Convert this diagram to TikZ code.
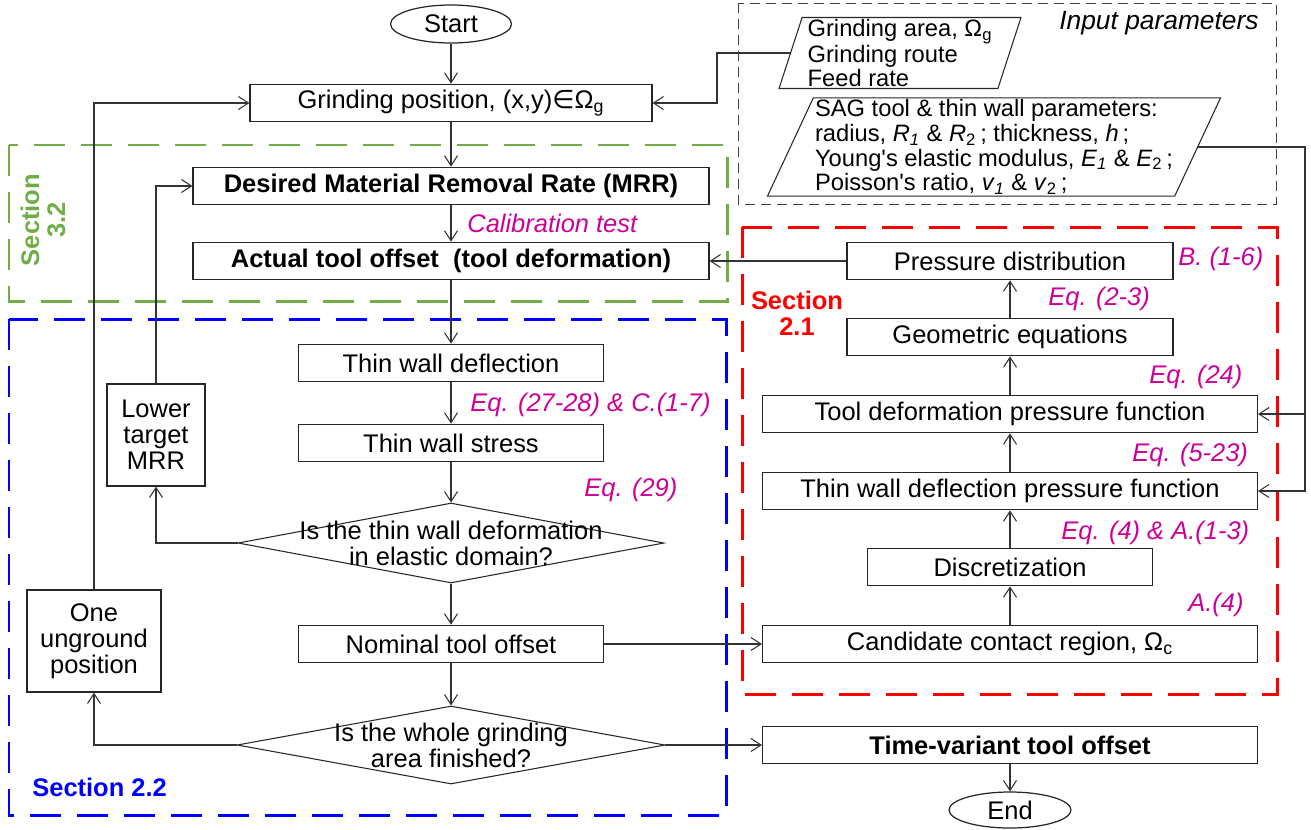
\documentclass[tikz,border=0pt]{standalone}
\usepackage{fontspec}
\setmainfont{Liberation Sans}
\newfontfamily\dejavufont{DejaVu Sans}
\usepackage{xcolor}
\usepackage{tikz}
\usetikzlibrary{arrows.meta,positioning,shapes.geometric}
\definecolor{eqmagenta}{HTML}{CC0099}
\definecolor{secgreen}{HTML}{70AD47}
\definecolor{secblue}{HTML}{0000FF}
\definecolor{secred}{HTML}{FF0000}
\newcommand{\boxfont}{\fontsize{14.5}{14.7}\selectfont}
\tikzset{
  plain/.style={line width=0.6pt, draw=black!80},
  flow/.style={plain, -{Straight Barb[length=2mm, width=2.6mm]}},
  process/.style={
    rectangle,
    draw=black!85,
    line width=0.7pt,
    fill=white,
    font=\boxfont,
    align=center,
    inner sep=2pt,
    minimum height=0.75cm
  },
  boldbox/.style={process, font=\boxfont\bfseries},
  terminal/.style={ellipse, draw=black!85, line width=0.7pt, fill=white, font=\boxfont, inner sep=0pt},
  decision/.style={diamond, draw=black!85, line width=0.6pt, inner sep=0pt},
  question/.style={font=\boxfont, align=center, inner sep=0pt},
  dataio/.style={
    trapezium,
    trapezium stretches body,
    draw=black!85,
    line width=0.6pt,
    align=left,
    inner sep=1pt
  },
  eqlabel/.style={font=\boxfont\itshape, text=eqmagenta, anchor=west, inner sep=0pt},
  seclabel/.style={font=\boxfont\bfseries, align=center, inner sep=0pt},
  frame/.style={line width=1.7pt, dash pattern=on 0.62cm off 0.32cm},
  inputframe/.style={line width=0.5pt, draw=black!75, dash pattern=on 0.2cm off 0.12cm}
}

\begin{document}
\begin{tikzpicture}[x=0.02cm,y=-0.02cm]
\path[use as bounding box] (0,0) rectangle (1311,829);

\draw[frame, draw=secgreen] (9,145) rectangle (727,301);
\draw[frame, draw=secblue] (9,319) rectangle (726,815);
\draw[frame, draw=secred] (742,227) rectangle (1277,694);
\draw[inputframe] (738,3) rectangle (1276,204);

\node[terminal, minimum width=2.42cm, minimum height=0.76cm] (start) at (451,24) {Start};
\node[process, minimum width=8.04cm] (gridpos) at (451,103) {Grinding position, (x,y){\dejavufont ∈}Ω\textsubscript{g}};
\node[boldbox, minimum width=10.32cm] (mrr) at (451,186) {Desired Material Removal Rate (MRR)};
\node[eqlabel] (calib) at (467,223) {Calibration test};
\node[boldbox, minimum width=10.32cm] (actual) at (451,261) {Actual tool offset~ (tool deformation)};

\node[process, minimum width=6.1cm] (deflect) at (451,363) {Thin wall deflection};
\node[eqlabel] (eqstress) at (470,405) {Eq. (27-28) \& C.(1-7)};
\node[process, minimum width=6.1cm] (stress) at (451,443) {Thin wall stress};
\node[eqlabel] (eqelastic) at (584,490) {Eq. (29)};
\node[decision, minimum width=8.52cm, minimum height=1.6cm] (elastic) at (451,543) {};
\node[question] (elasticq) at (elastic.center) {Is the thin wall deformation\\in elastic domain?};
\node[process, minimum width=1.96cm, minimum height=2.04cm] (lower) at (156,435) {Lower\\target\\MRR};
\node[process, minimum width=6.1cm] (nominal) at (451,644) {Nominal tool offset};
\node[decision, minimum width=8.56cm, minimum height=1.56cm] (finished) at (451,745) {};
\node[question] (finishedq) at (finished.center) {Is the whole grinding\\area finished?};
\node[process, minimum width=2.68cm, minimum height=2.04cm] (unground) at (94,641) {One\\unground\\position};

\node[boldbox, minimum width=9.9cm] (timevar) at (1010,745) {Time-variant tool offset};
\node[terminal, minimum width=2.44cm, minimum height=0.72cm] (finish) at (1010,810) {End};
\node[process, minimum width=9.9cm] (candidate) at (1010,644) {Candidate contact region, Ω\textsubscript{c}};
\node[process, minimum width=5.7cm] (discr) at (1010,567) {Discretization};
\node[process, minimum width=9.9cm] (thinfun) at (1010,491) {Thin wall deflection pressure function};
\node[process, minimum width=9.9cm] (toolfun) at (1010,414) {Tool deformation pressure function};
\node[process, minimum width=6.52cm] (geom) at (1010,337) {Geometric equations};
\node[process, minimum width=6.52cm] (pressure) at (1010,261) {Pressure distribution};

\node[eqlabel] (eqpressure) at (1178,259) {B. (1-6)};
\node[eqlabel] (eqgeom) at (1048,299) {Eq. (2-3)};
\node[eqlabel] (eqtool) at (1149,377) {Eq. (24)};
\node[eqlabel] (eqthin) at (1132,455) {Eq. (5-23)};
\node[eqlabel] (eqdiscr) at (1061,533) {Eq. (4) \& A.(1-3)};
\node[eqlabel] (eqcand) at (1188,605) {A.(4)};

\node[seclabel, text=secred] (sec21) at (797,313) {Section\\2.1};
\node[seclabel, text=secblue, anchor=west] (sec22) at (32,787) {Section 2.2};
\node[seclabel, text=secgreen, rotate=90] (sec32) at (43,220) {Section\\3.2};

\node[font=\fontsize{15}{17}\selectfont\itshape, anchor=west, inner sep=0pt] (inputtitle) at (1059,23) {Input parameters};
\node[dataio, trapezium left angle=72, trapezium right angle=108, minimum height=1.36cm, minimum width=4.84cm,
  font=\fontsize{13.5}{11.5}\selectfont] (route) at (900,53)
  {Grinding area, Ω\textsubscript{g}\\Grinding route\\Feed rate};
\node[dataio, trapezium left angle=65, trapezium right angle=115, minimum height=1.92cm, minimum width=8.7cm,
  font=\fontsize{13.5}{14}\selectfont] (params) at (994,147)
  {SAG tool \& thin wall parameters:\\
   radius, \textit{R}\textsubscript{\textit{1}} \& \textit{R}\textsubscript{2}\,; thickness, \textit{h}\,;\\
   Young\textquotesingle s elastic modulus, \textit{E}\textsubscript{\textit{1}} \& \textit{E}\textsubscript{2}\,;\\
   Poisson\textquotesingle s ratio, \textit{v}\textsubscript{\textit{1}} \& \textit{v}\textsubscript{2}\,;};

\coordinate (inbend) at (717,0);
\coordinate (rail) at (1305,0);

\draw[flow] (start) -- (gridpos);
\draw[flow] (gridpos) -- (mrr);
\draw[flow] (mrr) -- (actual);
\draw[flow] (actual) -- (deflect);
\draw[flow] (deflect) -- (stress);
\draw[flow] (stress) -- (elastic);
\draw[flow] (elastic) -- (nominal);
\draw[flow] (nominal) -- (finished);
\draw[flow] (elastic.west) -| (lower.south);
\draw[flow] (lower.north) |- (mrr.west);
\draw[flow] (finished.west) -| (unground.south);
\draw[flow] (unground.north) |- (gridpos.west);
\draw[flow] (finished.east) -- (timevar.west);
\draw[flow] (timevar) -- (finish);
\draw[flow] (nominal.east) -- (candidate.west);
\foreach \a/\b in {candidate/discr, discr/thinfun, thinfun/toolfun, toolfun/geom, geom/pressure}
  \draw[flow] (\a) -- (\b);
\draw[flow] (pressure.west) -- (actual.east);
\draw[flow] (route.west) -- (route.west -| inbend) |- (gridpos.east);
\draw[flow] (params.east) -- (params.east -| rail) |- (toolfun.east);
\draw[flow] (rail |- toolfun.east) |- (thinfun.east);
\end{tikzpicture}
\end{document}
